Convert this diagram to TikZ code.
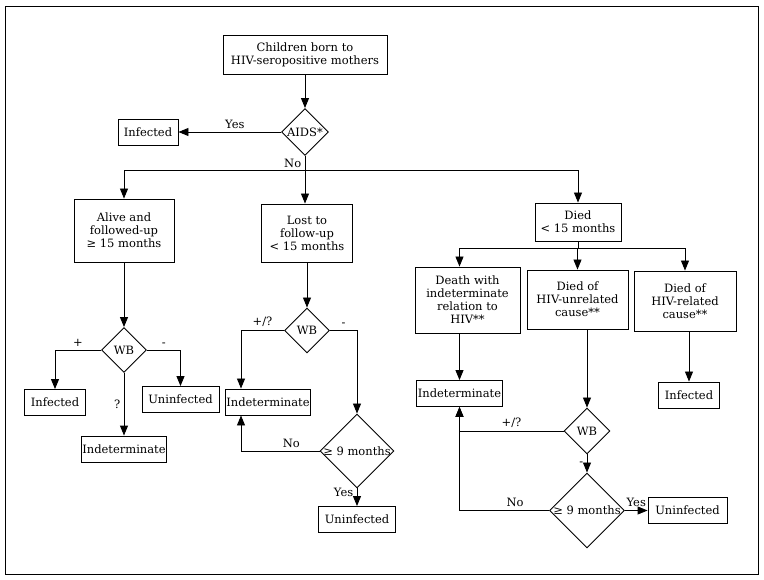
\documentclass[tikz,border=0pt]{standalone}
\usepackage{fontspec}
\setmainfont{DejaVu Serif}
\usetikzlibrary{arrows.meta}
\usetikzlibrary{shapes.geometric}
\usetikzlibrary{calc}

\begin{document}
\begin{tikzpicture}[x=1pt,y=-1pt,>={Triangle[length=10pt,width=8pt]},line width=0.9pt,
  every node/.style={font=\fontsize{11.5}{13}\selectfont},
  box/.style={draw,align=center,inner sep=1pt},
  test/.style={draw,diamond,inner sep=0pt,align=center}]
      \useasboundingbox (0,0) rectangle (764,580);
      \draw (5,6) rectangle (758,574);

      % Kaesten
      \node[box,minimum width=164pt,minimum height=39pt] (mothers) at (305,54.5) {Children born to\\HIV-seropositive mothers};
      \node[box,minimum width=100pt,minimum height=63pt] (alive) at (124,230.5) {Alive and\\followed-up\\≥ 15 months};
      \node[box,minimum width=91pt,minimum height=58pt] (lost) at (307,233) {Lost to\\follow-up\\< 15 months};
      \node[box,minimum width=86pt,minimum height=38pt] (died) at (578,222) {Died\\< 15 months};
      \node[box,minimum width=105pt,minimum height=66pt] (deathind) at (467.5,300) {Death with\\indeterminate\\relation to\\HIV**};
      \node[box,minimum width=101pt,minimum height=59pt] (unrel) at (577.5,299.5) {Died of\\HIV-unrelated\\cause**};
      \node[box,minimum width=102pt,minimum height=60pt] (rel) at (685,301) {Died of\\HIV-related\\cause**};

      % Ergebnisse
      \foreach \name/\x/\y/\w/\text in {infA/148/132/60/Infected,infB/55/402.5/61/Infected,
        uninfB/180.5/399.5/77/Uninfected,indB/124/449/84/Indeterminate,
        indC/268/402/84/Indeterminate,uninfC/357/519.5/77/Uninfected,
        indD/459.5/393.5/85/Indeterminate,uninfD/687.5/510.5/79/Uninfected,infD/689/395/61/Infected}
      \node[box,minimum width=\w pt,minimum height=26pt] (\name) at (\x,\y) {\text};

      % Rauten
      \foreach \name/\x/\y/\w/\text in {aids/305/132/47/AIDS*,wbB/124/350/45/WB,wbC/307/330.5/45/WB,
        nineC/357/451/74/≥ 9 months,wbD/587/431/46/WB,nineD/587/510.5/75/≥ 9 months}
      \node[test,minimum width=\w pt,minimum height=\w pt] (\name) at (\x,\y) {\makebox[0pt]{\text}};

      % oben
      \draw[->] (mothers) -- (aids);
      \draw[->] (aids) -- node[above,pos=0.45] {Yes} (infA);
      \draw (aids.south) -- node[left] {No} ++(0,15) coordinate (split);
      \draw[->] (split) -- (split |- lost.north);
      \draw[->] (split) -| (alive.north);
      \draw[->] (split) -| (died.north);

      % links
      \draw[->] (alive) -- (wbB);
      \draw[->] (wbB.west) -| node[above,pos=0.25] {+} (infB.north);
      \draw[->] (wbB.east) -| node[above,pos=0.25] {-} (uninfB.north);
      \draw[->] (wbB) -- node[left] {?} (indB);

      % Mitte
      \draw[->] (lost) -- (wbC);
      \draw[->] (wbC.west) -| node[above,pos=0.25] {+/?} ([xshift=-27pt]indC.north);
      \draw[->] (wbC.east) -| node[above,pos=0.25] {-} (nineC.north);
      \draw[->] (nineC.west) -| node[above,pos=0.18] {No} ([xshift=-27pt]indC.south);
      \draw[->] (nineC) -- node[left,pos=0.2] {Yes} (uninfC);

      % rechts
      \draw (died.south) -- ++(0,7) coordinate (dsplit);
      \draw[->] (dsplit) -| ([xshift=-8pt]deathind.north);
      \draw[->] (dsplit) -| (unrel.north);
      \draw[->] (dsplit) -| (rel.north);
      \draw[->] ([xshift=-8pt]deathind.south) -- (indD);
      \draw[->] ([xshift=9.5pt]unrel.south) -- (wbD);
      \draw[->] (infD.north |- rel.south) -- (infD);
      \draw[->] (wbD.west) -| node[above,pos=0.25] {+/?} (indD.south);
      \draw[->] (wbD) -- node[left] {-} (nineD);
      \draw[->] (nineD.west) -| node[above,pos=0.19] {No} (indD.south);
      \draw[->] (nineD) -- node[above] {Yes} (uninfD);
    \end{tikzpicture}
\end{document}
